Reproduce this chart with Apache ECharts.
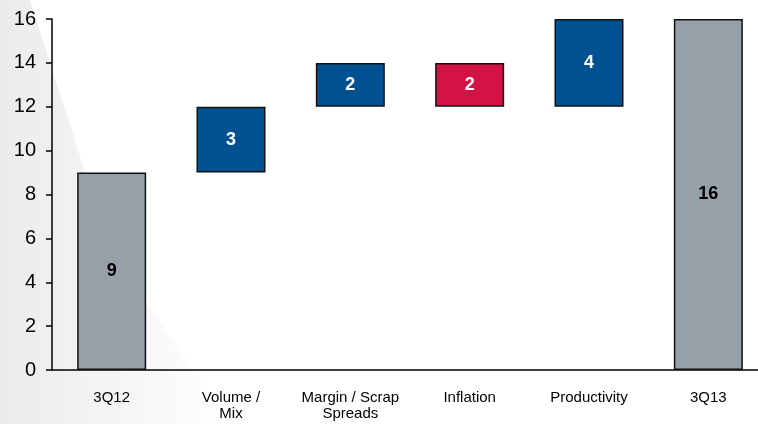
<!DOCTYPE html>
<html>
<head>
<meta charset="utf-8">
<script src="https://cdn.jsdelivr.net/npm/echarts@6/dist/echarts.min.js"></script>
<style>
  html, body { margin: 0; padding: 0; background: #fff; }
  #chart { width: 758px; height: 424px; }
</style>
</head>
<body>
<div id="chart"></div>
<script>
// 数据
const categories = ['3Q12', 'Volume /\nMix', 'Margin / Scrap\nSpreads', 'Inflation', 'Productivity', '3Q13'];
const baseValues = [0, 9, 12, 12, 12, 0];
const barValues = [9, 3, 2, 2, 4, 16];
const barKinds = ['total', 'up', 'up', 'down', 'up', 'total'];
const yTicks = [0, 2, 4, 6, 8, 10, 12, 14, 16];

const kindColor = { total: '#96a0a9', up: '#005191', down: '#d31245' };
const kindLabel = { total: '#000', up: '#fff', down: '#fff' };

const myChart = echarts.init(document.getElementById('chart'));

const options = {
  animation: false,
  backgroundColor: '#fff',
  // 左侧的浅灰色背景
  graphic: [
    {
      type: 'polygon',
      silent: true,
      z: -10,
      shape: { points: [[0, 0], [30, 0], [110, 250], [230, 424], [0, 424]] },
      style: {
        fill: new echarts.graphic.LinearGradient(0, 0, 1, 0, [
          { offset: 0, color: 'rgba(0,0,0,0.08)' },
          { offset: 1, color: 'rgba(0,0,0,0.0)' }
        ])
      }
    }
  ],
  // 网格稍微超出右侧边界
  grid: { top: 19, left: 52, width: 716, height: 351, outerBoundsMode: 'none' },
  xAxis: {
    type: 'category',
    data: categories,
    axisLine: { lineStyle: { color: '#000', width: 1.5 } },
    axisTick: { show: false },
    axisLabel: {
      color: '#000',
      fontFamily: 'Liberation Sans, Arial',
      fontSize: 15,
      margin: 20,
      lineHeight: 16,
      interval: 0
    }
  },
  yAxis: {
    type: 'value',
    min: yTicks[0],
    max: yTicks[yTicks.length - 1],
    interval: 2,
    splitLine: { show: false },
    axisLine: { show: true, lineStyle: { color: '#000', width: 1.5 } },
    axisTick: { show: true, length: 6, lineStyle: { color: '#000', width: 1.5 } },
    axisLabel: {
      color: '#000',
      fontFamily: 'Liberation Sans, Arial',
      fontSize: 20,
      margin: 16
    }
  },
  series: [
    {
      type: 'bar',
      stack: 'wf',
      barWidth: 69,
      silent: true,
      itemStyle: { color: 'transparent' },
      data: baseValues
    },
    {
      type: 'bar',
      stack: 'wf',
      barWidth: 69,
      data: barValues.map((v, i) => ({
        value: v,
        itemStyle: {
          color: kindColor[barKinds[i]],
          borderColor: '#111',
          borderWidth: 1.5
        },
        label: { color: kindLabel[barKinds[i]] }
      })),
      label: {
        show: true,
        position: 'inside',
        fontFamily: 'Liberation Sans, Arial',
        fontWeight: 'bold',
        fontSize: 18
      }
    }
  ]
};

myChart.setOption(options);
</script>
</body>
</html>
